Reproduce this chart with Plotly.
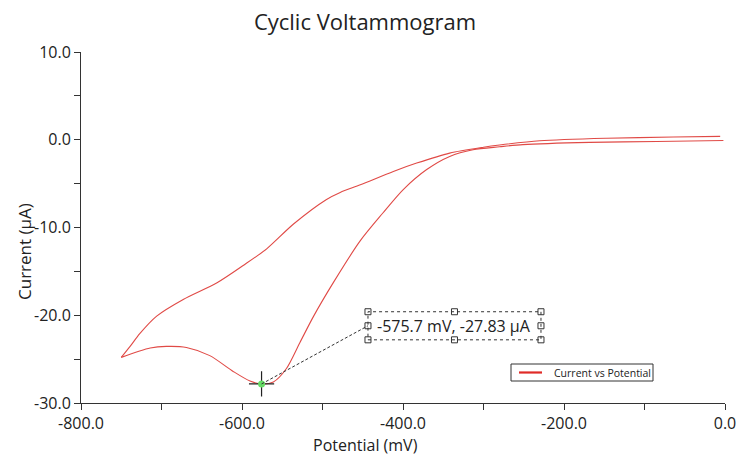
import plotly.graph_objects as go

# Forward (cathodic) sweep: 0 mV -> -750 mV
fwd_potential = [-2, -85, -168, -251, -280, -313, -342, -371, -400, -425, -453,
                 -486, -511, -528, -545, -561, -575.7, -590, -611, -640,
                 -669, -694, -714, -750]
fwd_current = [-0.08, -0.2, -0.3, -0.55, -0.8, -1.14, -1.9, -3.42, -5.7, -8.35, -11.5,
               -16.2, -20.1, -23.1, -26.1, -27.6, -27.83, -27.5, -26.4, -24.6,
               -23.67, -23.55, -23.74, -24.8]
# Reverse sweep: -750 mV -> 0 mV
rev_potential = [-750, -739, -727, -706, -673, -631, -598, -569, -536, -495, -478, -453, -412,
                 -383, -342, -300, -280, -230, -147, -64, -6]
rev_current = [-24.8, -23.55, -22.1, -20.1, -18.2, -16.3, -14.3, -12.4, -9.6, -6.8, -6.0, -5.13,
               -3.61, -2.66, -1.52, -0.85, -0.6, -0.12, 0.17, 0.31, 0.38]

peak_potential = -575.7
peak_current = -27.83

x_tickvals = [-800, -600, -400, -200, 0]
x_ticktext = ["-800.0", "-600.0", "-400.0", "-200.0", "0.0"]
y_tickvals = [-30, -20, -10, 0, 10]
y_ticktext = ["-30.0", "-20.0", "-10.0", "0.0", "10.0"]

FONT = "Open Sans"
TXT = "#222222"
RED = "#e04a46"

# plot area in pixels (layout placement only)
L, R, T, B = 81, 12, 52, 53
W, H = 737, 456
PW, PH = W - L - R, H - T - B


def px(xp):
    return (xp - L) / PW


def py(yp):
    return (H - B - yp) / PH


fig = go.Figure()
fig.add_trace(go.Scatter(
    x=fwd_potential, y=fwd_current, mode="lines", name="Current vs Potential",
    showlegend=False,
    line=dict(color=RED, width=1.1, shape="spline", smoothing=0.8),
))
fig.add_trace(go.Scatter(
    x=rev_potential, y=rev_current, mode="lines", name="Current vs Potential",
    showlegend=False,
    line=dict(color=RED, width=1.1, shape="spline", smoothing=0.8),
))
fig.add_trace(go.Scatter(
    x=[peak_potential], y=[peak_current], mode="markers", showlegend=False,
    marker=dict(symbol="cross-thin", size=18, line=dict(color="#222222", width=1.2)),
))
fig.add_trace(go.Scatter(
    x=[peak_potential], y=[peak_current], mode="markers", showlegend=False,
    marker=dict(symbol="circle", size=7, color="#66dd66"),
))

# annotation box (data coordinates)
bx0, bx1, by0, by1 = -443.5, -228.6, -22.8, -19.6
fig.add_shape(type="line", x0=peak_potential, y0=peak_current, x1=bx0, y1=(by0 + by1) / 2,
              line=dict(color="#333333", width=1, dash="3px,2px"))
fig.add_shape(type="rect", x0=bx0, x1=bx1, y0=by0, y1=by1,
              line=dict(color="#333333", width=1, dash="dot"))
hx = [bx0, bx0, bx0, (bx0 + bx1) / 2, (bx0 + bx1) / 2, bx1, bx1, bx1]
hy = [by0, (by0 + by1) / 2, by1, by0, by1, by0, (by0 + by1) / 2, by1]
fig.add_trace(go.Scatter(
    x=hx, y=hy, mode="markers", showlegend=False,
    marker=dict(symbol="square-open", size=6, color="#333333", line=dict(width=1)),
))
fig.add_annotation(x=(bx0 + bx1) / 2, y=(by0 + by1) / 2, text="-575.7 mV, -27.83 µA",
                   showarrow=False, font=dict(family=FONT, size=16, color=TXT))

# legend box drawn in paper coordinates
fig.add_shape(type="rect", xref="paper", yref="paper", x0=px(511), x1=px(653),
              y0=py(381), y1=py(364), line=dict(color="#333333", width=1),
              fillcolor="white", layer="above")
fig.add_shape(type="line", xref="paper", yref="paper", x0=px(519), x1=px(542),
              y0=py(372.5), y1=py(372.5), line=dict(color="#e02b27", width=2.2), layer="above")
fig.add_annotation(xref="paper", yref="paper", x=px(552), y=py(372.5), text="Current vs Potential",
                   showarrow=False, xanchor="left", yanchor="middle",
                   font=dict(family=FONT, size=10.5, color=TXT))

# axis titles (centred like the original, not on the plot area)
fig.add_annotation(xref="paper", yref="paper", x=px(365), y=py(445),
                   text="Potential (mV)", showarrow=False, xanchor="center", yanchor="middle",
                   font=dict(family=FONT, size=16, color=TXT))
fig.add_annotation(xref="paper", yref="paper", x=px(24), y=py(252),
                   text="Current (µA)", showarrow=False, xanchor="center", yanchor="middle",
                   textangle=-90, font=dict(family=FONT, size=17, color=TXT))

fig.update_layout(
    width=W, height=H,
    paper_bgcolor="white", plot_bgcolor="white",
    margin=dict(l=L, r=R, t=T, b=B, autoexpand=False),
    font=dict(family=FONT, color=TXT),
    title=dict(text="Cyclic Voltammogram", x=365 / W, xanchor="center", y=1 - 22 / H,
               yanchor="middle", yref="container", font=dict(family=FONT, size=22, color=TXT)),
    showlegend=False,
    xaxis=dict(range=[-800, 0], showgrid=False, zeroline=False, showline=True,
               linecolor="#333333", linewidth=1, ticks="outside", ticklen=6,
               tickcolor="#333333", tickvals=x_tickvals, ticktext=x_ticktext,
               tickfont=dict(family=FONT, size=16, color=TXT), automargin=False,
               minor=dict(dtick=100, ticks="outside", ticklen=6, tickcolor="#333333")),
    yaxis=dict(range=[-30, 10], showgrid=False, zeroline=False, showline=True,
               linecolor="#333333", linewidth=1, ticks="outside", ticklen=6,
               tickcolor="#333333", tickvals=y_tickvals, ticktext=y_ticktext,
               tickfont=dict(family=FONT, size=16, color=TXT), automargin=False,
               minor=dict(dtick=5, ticks="outside", ticklen=6, tickcolor="#333333")),
)

fig.write_html("out.html", config={"displayModeBar": False},
               post_script="document.body.style.margin='0';")
